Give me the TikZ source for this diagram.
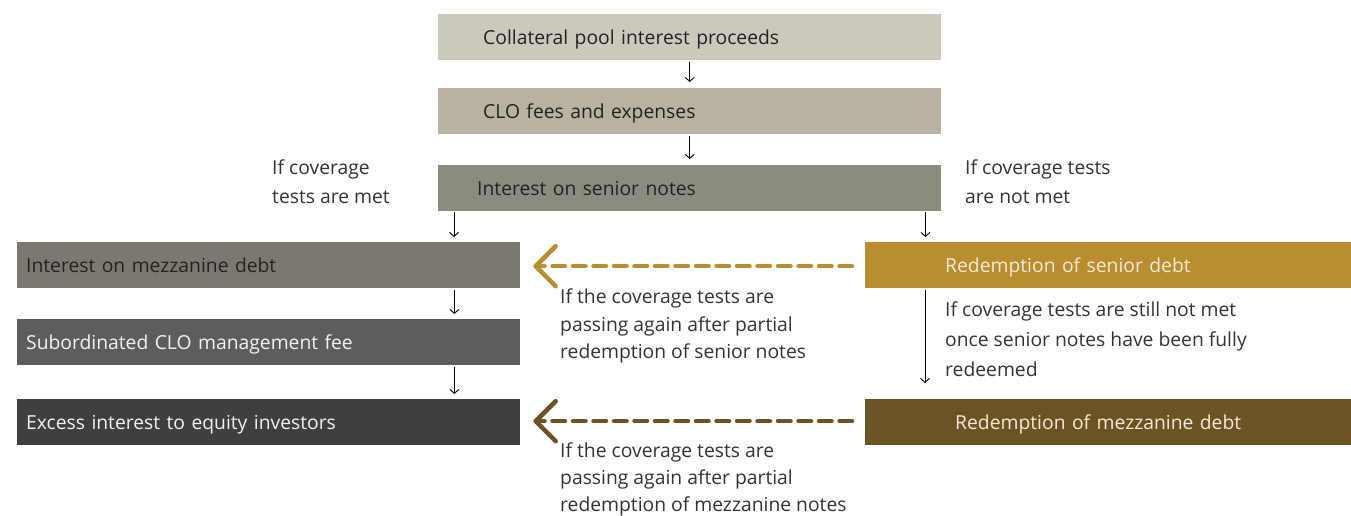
\documentclass[tikz,border=0pt]{standalone}
\usepackage{fontspec}
\setmainfont{Open Sans}
\usetikzlibrary{arrows.meta}
\definecolor{cpool}{HTML}{CCC8BB}
\definecolor{cfees}{HTML}{B8B2A2}
\definecolor{csenior}{HTML}{8B8B80}
\definecolor{cmezz}{HTML}{7C7870}
\definecolor{csub}{HTML}{5D5E5C}
\definecolor{cexcess}{HTML}{3F3F3F}
\definecolor{credsen}{HTML}{B98D30}
\definecolor{credmez}{HTML}{6C5325}
\definecolor{darktext}{HTML}{222222}
\definecolor{lighttext}{HTML}{F2F2F2}
\definecolor{creamtext}{HTML}{F3EBD6}
\definecolor{labeltext}{HTML}{333333}
\tikzset{
  box/.style={rectangle, anchor=north west, minimum height=46pt, inner ysep=0pt,
    text height=16pt, text depth=2pt,
    align=left, font=\fontsize{19.3}{22}\selectfont},
  note/.style={anchor=north west, align=left, inner sep=0pt, text=labeltext},
  flow/.style={draw=black, line width=0.9pt, -{Straight Barb[length=4pt,width=9pt]}},
  back/.style={line width=4.5pt, line cap=round, dash pattern=on 12.5pt off 8pt,
    -{Straight Barb[length=20pt,width=40pt,line cap=round,line join=round]}}
}
\begin{document}
\begin{tikzpicture}[x=1pt,y=-1pt]
\useasboundingbox (0,0) rectangle (1351,516);

% central cascade
\node[box, fill=cpool, text=darktext, text width=413pt, inner xsep=45pt] (cp) at (438,14) {Collateral pool interest proceeds};
\node[box, fill=cfees, text=darktext, text width=413pt, inner xsep=45pt] (fe) at (438,88) {CLO fees and expenses};
\node[box, fill=csenior, text=darktext, text width=425pt, inner xsep=39pt] (sn) at (438,165) {Interest on senior notes};

% left column: coverage tests met
\node[box, fill=cmezz, text=darktext, text width=485pt, inner xsep=9pt] (im) at (17,242) {Interest on mezzanine debt};
\node[box, fill=csub, text=lighttext, text width=485pt, inner xsep=9pt] (sm) at (17,319) {Subordinated CLO management fee};
\node[box, fill=cexcess, text=lighttext, text width=485pt, inner xsep=9pt] (ex) at (17,399) {Excess interest to equity investors};

% right column: coverage tests not met
\node[box, fill=credsen, text=creamtext, text width=326pt, inner xsep=80pt] (rs) at (865,242) {Redemption of senior debt};
\node[box, fill=credmez, text=creamtext, text width=306pt, inner xsep=90pt] (rm) at (865,399) {Redemption of mezzanine debt};

% condition labels
\node[note, font=\fontsize{19.3}{29}\selectfont] (lmet) at (272,160) {If coverage\\tests are met};
\node[note, font=\fontsize{19.3}{29}\selectfont] (lnot) at (965,160) {If coverage tests\\are not met};
\node[note, font=\fontsize{19.3}{27.5}\selectfont] (lpass1) at (560,289) {If the coverage tests are\\passing again after partial\\redemption of senior notes};
\node[note, font=\fontsize{19.3}{30}\selectfont] (lstill) at (945,302) {If coverage tests are still not met\\once senior notes have been fully\\redeemed};
\node[note, font=\fontsize{19.3}{27}\selectfont] (lpass2) at (560,443) {If the coverage tests are\\passing again after partial\\redemption of mezzanine notes};

% solid flow arrows
\draw[flow, shorten <=2pt, shorten >=6pt] (cp.south) -- (fe.north);
\draw[flow, shorten <=2pt, shorten >=6pt] (fe.south) -- (sn.north);
\draw[flow, shorten <=1pt, shorten >=5pt] ([xshift=16pt]sn.south west) -- ([xshift=16pt]sn.south west |- im.north);
\draw[flow, shorten <=1pt, shorten >=5pt] ([xshift=-16pt]sn.south east) -- ([xshift=-16pt]sn.south east |- rs.north);
\draw[flow, shorten <=2pt, shorten >=5pt] ([xshift=-66pt]im.south east) -- ([xshift=-66pt]sm.north east);
\draw[flow, shorten <=2pt, shorten >=5pt] ([xshift=-66pt]sm.south east) -- ([xshift=-66pt]ex.north east);
\draw[flow, shorten <=2pt, shorten >=16pt] ([xshift=60pt]rs.south west) -- ([xshift=60pt]rm.north west);

% dashed return arrows
\draw[back, draw=credsen] ([xshift=-13pt,yshift=-1pt]rs.west) -- ([xshift=13pt,yshift=-1pt]im.east);
\draw[back, draw=credmez] ([xshift=-13pt,yshift=1pt]rm.west) -- ([xshift=13pt,yshift=1pt]ex.east);
\end{tikzpicture}
\end{document}
